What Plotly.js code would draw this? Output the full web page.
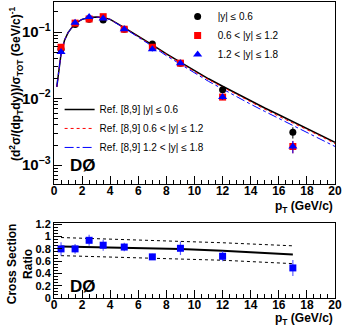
<!DOCTYPE html>
<html>
<head>
<meta charset="utf-8">
<script src="https://cdn.plot.ly/plotly-3.0.1.min.js"></script>
<style>
  html, body { margin: 0; padding: 0; background: #fff; }
  #myDiv { width: 343px; height: 327px; }
</style>
</head>
<body>
<div id="myDiv"></div>
<script>
// measured points, top panel
const ptPoints = [0.5, 1.5, 2.5, 3.5, 5, 7, 9, 12, 17];
const yCentral = [0.055, 0.13, 0.155, 0.151, 0.11, 0.066, 0.034, 0.0135, 0.0031];
const yCentralErr = [0.004, 0.008, 0.009, 0.009, 0.006, 0.004, 0.002, 0.0012, 0.0006];
const yMid = [0.059, 0.136, 0.157, 0.17, 0.11, 0.059, 0.034, 0.0105, 0.0019];
const yMidErr = [0.004, 0.008, 0.009, 0.01, 0.006, 0.004, 0.002, 0.001, 0.0004];
const yFwd = [0.05, 0.138, 0.168, 0.16, 0.11, 0.055, 0.034, 0.0105, 0.0019];
const yFwdErr = [0.004, 0.008, 0.01, 0.01, 0.006, 0.004, 0.002, 0.001, 0.0004];

// theory curves (Ref. [8,9])
const ptCurve = [0.2, 0.5, 0.75, 1, 1.5, 2, 2.5, 3, 3.5, 4, 5, 6, 7, 8, 9, 10, 11, 12, 13, 14, 15, 16, 17, 18, 19, 20];
const refCentral = [0.015, 0.047, 0.075, 0.098, 0.135, 0.155, 0.165, 0.168, 0.165, 0.155, 0.116, 0.087, 0.064, 0.047, 0.035, 0.026, 0.0198, 0.0153, 0.0118, 0.0092, 0.0072, 0.0057, 0.0045, 0.0036, 0.0028, 0.0022];
const refMid = [0.015, 0.047, 0.075, 0.098, 0.135, 0.155, 0.165, 0.168, 0.165, 0.155, 0.115, 0.086, 0.063, 0.046, 0.034, 0.0253, 0.0192, 0.0148, 0.0114, 0.0088, 0.0069, 0.0054, 0.0043, 0.0034, 0.0027, 0.0021];
const refFwd = [0.015, 0.047, 0.075, 0.098, 0.135, 0.155, 0.165, 0.168, 0.164, 0.154, 0.114, 0.084, 0.061, 0.044, 0.0325, 0.024, 0.0181, 0.0139, 0.0106, 0.0082, 0.0064, 0.005, 0.0039, 0.0031, 0.0024, 0.0019];

// bottom panel: cross section ratio
const ratio = [0.8, 0.8, 0.94, 0.86, 0.83, 0.67, 0.81, 0.68, 0.49];
const ratioErr = [0.11, 0.08, 0.09, 0.09, 0.07, 0.05, 0.11, 0.08, 0.13];
const ptBand = [0.5, 5, 9, 12, 17];
const ratioFit = [0.84, 0.825, 0.8, 0.77, 0.71];
const ratioUpper = [0.985, 0.955, 0.925, 0.9, 0.85];
const ratioLower = [0.69, 0.665, 0.64, 0.615, 0.56];

const font = "Liberation Sans, Arial, sans-serif";

const data = [
  {x: ptCurve, y: refCentral, type: "scatter", mode: "lines",
   line: {color: "black", width: 1.5}, name: "Ref. [8,9] |y| ≤ 0.6", legend: "legend2"},
  {x: ptCurve, y: refMid, type: "scatter", mode: "lines",
   line: {color: "red", width: 1, dash: "dot"}, name: "Ref. [8,9] 0.6 < |y| ≤ 1.2", legend: "legend2"},
  {x: ptCurve, y: refFwd, type: "scatter", mode: "lines",
   line: {color: "blue", width: 1, dash: "dashdot"}, name: "Ref. [8,9] 1.2 < |y| ≤ 1.8", legend: "legend2"},
  {x: ptPoints, y: yCentral, type: "scatter", mode: "markers", name: "|y| ≤ 0.6",
   marker: {color: "black", symbol: "circle", size: 7},
   error_y: {type: "data", array: yCentralErr, color: "black", width: 0, thickness: 1}},
  {x: ptPoints, y: yMid, type: "scatter", mode: "markers", name: "0.6 < |y| ≤ 1.2",
   marker: {color: "red", symbol: "square", size: 7},
   error_y: {type: "data", array: yMidErr, color: "red", width: 0, thickness: 1}},
  {x: ptPoints, y: yFwd, type: "scatter", mode: "markers", name: "1.2 < |y| ≤ 1.8",
   marker: {color: "blue", symbol: "triangle-up", size: 8},
   error_y: {type: "data", array: yFwdErr, color: "blue", width: 0, thickness: 1}},
  {x: ptBand, y: ratioUpper, xaxis: "x2", yaxis: "y2", type: "scatter", mode: "lines",
   line: {color: "black", width: 1, dash: "dot"}, showlegend: false},
  {x: ptBand, y: ratioLower, xaxis: "x2", yaxis: "y2", type: "scatter", mode: "lines",
   line: {color: "black", width: 1, dash: "dot"}, showlegend: false},
  {x: ptBand, y: ratioFit, xaxis: "x2", yaxis: "y2", type: "scatter", mode: "lines",
   line: {color: "black", width: 2}, showlegend: false},
  {x: ptPoints, y: ratio, xaxis: "x2", yaxis: "y2", type: "scatter", mode: "markers",
   marker: {color: "blue", symbol: "square", size: 7},
   error_y: {type: "data", array: ratioErr, color: "rgba(60,60,255,0.8)", width: 0, thickness: 1.2},
   showlegend: false}
];

const tickFont = {family: font, size: 12, color: "black", weight: "bold"};
const xCommon = {
  range: [0, 20], dtick: 2, ticks: "inside", ticklen: 8, tickcolor: "black",
  showline: true, linecolor: "black", linewidth: 1, mirror: true,
  showgrid: false, zeroline: false, tickfont: tickFont, ticklabelstandoff: -4,
  minor: {dtick: 0.5, ticks: "inside", ticklen: 4, tickcolor: "black", showgrid: false}
};

const layout = {
  width: 343, height: 327,
  margin: {l: 54, r: 8, t: 2, b: 29},
  paper_bgcolor: "white", plot_bgcolor: "white",
  font: {family: font, size: 10, color: "black"},
  xaxis: Object.assign({}, xCommon, {anchor: "y"}),
  yaxis: {
    domain: [0.385, 1], type: "log", range: [-3.286, -0.549], dtick: 1,
    exponentformat: "power", ticks: "inside", ticklen: 8, tickcolor: "black",
    showline: true, linecolor: "black", linewidth: 1, mirror: true,
    showgrid: false, zeroline: false, tickfont: tickFont,
    minor: {dtick: "D1", ticks: "inside", ticklen: 4, tickcolor: "black", showgrid: false}
  },
  xaxis2: Object.assign({}, xCommon, {anchor: "y2"}),
  yaxis2: {
    domain: [0, 0.253], range: [0, 1.22], dtick: 0.2, ticks: "inside", ticklen: 8,
    tickcolor: "black", showline: true, linecolor: "black", linewidth: 1, mirror: true,
    showgrid: false, zeroline: false,
    tickfont: {family: font, size: 11, color: "black", weight: "bold"},
    minor: {dtick: 0.05, ticks: "inside", ticklen: 4, tickcolor: "black", showgrid: false}
  },
  legend: {
    x: 0.44, y: 1.0, xanchor: "left", yanchor: "top",
    bgcolor: "rgba(0,0,0,0)", font: {family: font, size: 10},
    tracegroupgap: 0
  },
  legend2: {
    x: 0.02, y: 0.686, xanchor: "left", yanchor: "top",
    bgcolor: "rgba(0,0,0,0)", font: {family: font, size: 10},
    tracegroupgap: 0
  },
  annotations: [
    {text: "DØ", xref: "x domain", yref: "y domain", x: 0.05, y: 0.1,
     xanchor: "left", yanchor: "middle", showarrow: false,
     font: {family: font, size: 17, weight: "bold"}},
    {text: "DØ", xref: "x2 domain", yref: "y2 domain", x: 0.05, y: 0.15,
     xanchor: "left", yanchor: "middle", showarrow: false,
     font: {family: font, size: 17, weight: "bold"}},
    {text: "p<sub>T</sub> (GeV/c)", xref: "paper", yref: "paper", x: 1.0, y: 0.309,
     xanchor: "right", yanchor: "middle", showarrow: false,
     font: {family: font, size: 12, weight: "bold"}},
    {text: "p<sub>T</sub> (GeV/c)", xref: "paper", yref: "paper", x: 1.0, y: -0.071,
     xanchor: "right", yanchor: "middle", showarrow: false,
     font: {family: font, size: 12, weight: "bold"}},
    {text: "(d<sup>2</sup>σ/(dp<sub>T</sub>dy))/σ<sub>TOT</sub> (GeV/c)<sup>-1</sup>",
     xref: "paper", yref: "paper", x: -0.135, y: 0.723, textangle: -90,
     xanchor: "center", yanchor: "middle", showarrow: false,
     font: {family: font, size: 12, weight: "bold"}},
    {text: "Cross Section<br>Ratio", xref: "paper", yref: "paper", x: -0.12, y: 0.115,
     textangle: -90, xanchor: "center", yanchor: "middle", showarrow: false,
     font: {family: font, size: 12, weight: "bold"}}
  ]
};

Plotly.newPlot("myDiv", data, layout, {displayModeBar: false, staticPlot: true});
</script>
</body>
</html>
